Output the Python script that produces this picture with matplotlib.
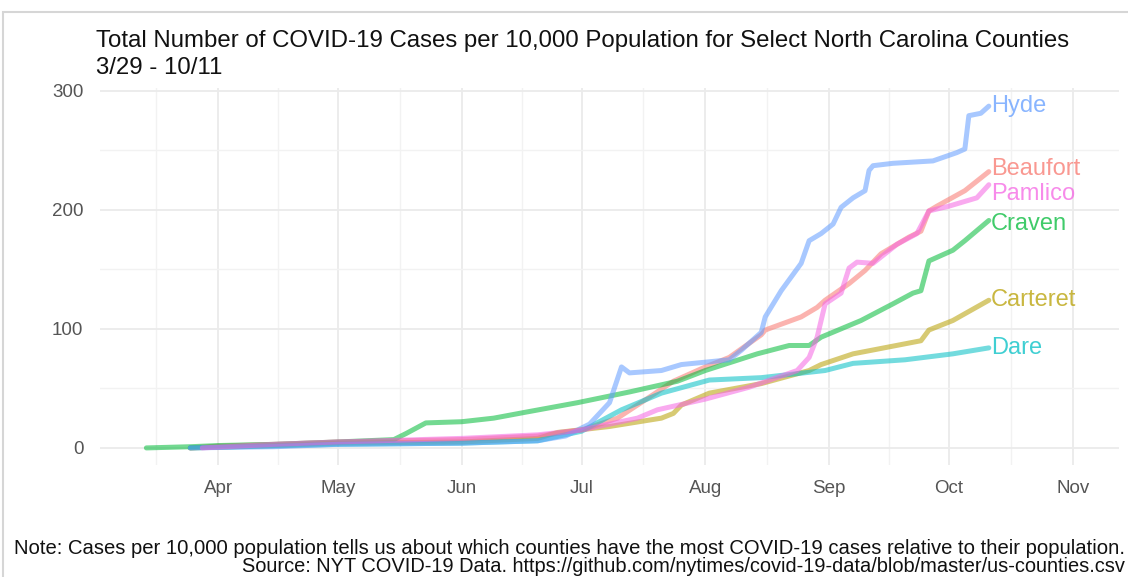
import numpy as np
import pandas as pd
import matplotlib
matplotlib.use("Agg")
import matplotlib.pyplot as plt
import matplotlib.dates as mdates
from matplotlib.patches import Rectangle

# ------------------------------
# Data
# ------------------------------

hyde_dates = ["2020-03-25", "2020-04-15", "2020-05-01", "2020-06-01", "2020-06-20",
              "2020-06-27", "2020-07-03", "2020-07-08", "2020-07-11", "2020-07-13",
              "2020-07-21", "2020-07-26", "2020-08-01", "2020-08-07", "2020-08-10",
              "2020-08-15", "2020-08-16", "2020-08-20", "2020-08-25", "2020-08-27",
              "2020-08-30", "2020-09-02", "2020-09-04", "2020-09-07", "2020-09-10",
              "2020-09-11", "2020-09-12", "2020-09-17", "2020-09-27", "2020-10-03",
              "2020-10-05", "2020-10-06", "2020-10-09", "2020-10-11"]
hyde_vals = [0, 1, 3, 4, 6, 10, 20, 38, 68, 63, 65, 70, 72, 74, 82, 97, 110, 132,
             155, 174, 180, 188, 202, 210, 216, 233, 237, 239, 241, 248, 251, 279,
             281, 287]

beaufort_dates = ["2020-03-25", "2020-04-01", "2020-04-15", "2020-05-01", "2020-06-01",
                  "2020-06-20", "2020-07-01", "2020-07-10", "2020-07-15", "2020-07-24",
                  "2020-08-01", "2020-08-07", "2020-08-15", "2020-08-16", "2020-08-25",
                  "2020-08-29", "2020-08-31", "2020-09-06", "2020-09-10", "2020-09-14",
                  "2020-09-21", "2020-09-24", "2020-09-26", "2020-09-28", "2020-10-05",
                  "2020-10-11"]
beaufort_vals = [0, 1.5, 3, 5, 7, 10, 15, 25, 36, 56, 68, 76, 95, 99, 110, 118, 124,
                 138, 149, 163, 177, 182, 199, 203, 216, 232]

pamlico_dates = ["2020-03-28", "2020-04-15", "2020-05-01", "2020-06-01", "2020-06-20",
                 "2020-07-01", "2020-07-15", "2020-07-20", "2020-08-01", "2020-08-12",
                 "2020-08-24", "2020-08-27", "2020-08-29", "2020-08-31", "2020-09-04",
                 "2020-09-06", "2020-09-08", "2020-09-12", "2020-09-18", "2020-09-23",
                 "2020-09-26", "2020-10-01", "2020-10-08", "2020-10-11"]
pamlico_vals = [0, 3, 5, 8, 11, 15, 25, 32, 41, 51, 65, 76, 93, 121, 130, 151, 156,
                155, 171, 180, 199, 203, 210, 221]

craven_dates = ["2020-03-14", "2020-03-25", "2020-04-01", "2020-04-15", "2020-05-01",
                "2020-05-15", "2020-05-18", "2020-05-23", "2020-06-01", "2020-06-09",
                "2020-06-17", "2020-06-30", "2020-07-13", "2020-07-25", "2020-08-01",
                "2020-08-14", "2020-08-22", "2020-08-27", "2020-08-30", "2020-09-09",
                "2020-09-17", "2020-09-22", "2020-09-24", "2020-09-26", "2020-09-28",
                "2020-10-02", "2020-10-05", "2020-10-11"]
craven_vals = [0, 1, 2, 3, 5, 7, 12, 21, 22, 25, 30, 38, 47, 56, 65, 79, 86, 86, 93,
               107, 121, 130, 132, 157, 160, 166, 174, 191]

carteret_dates = ["2020-03-25", "2020-04-15", "2020-05-01", "2020-06-01", "2020-06-20",
                  "2020-06-25", "2020-07-08", "2020-07-21", "2020-07-24", "2020-07-26",
                  "2020-08-02", "2020-08-15", "2020-08-27", "2020-08-30", "2020-09-07",
                  "2020-09-24", "2020-09-26", "2020-10-02", "2020-10-11"]
carteret_vals = [0, 2, 4, 5, 8, 13, 18, 25, 29, 36, 46, 54, 65, 70, 79, 90, 99, 107,
                 124]

dare_dates = ["2020-03-25", "2020-05-01", "2020-06-01", "2020-06-20", "2020-07-01",
              "2020-07-11", "2020-07-21", "2020-08-02", "2020-08-15", "2020-08-31",
              "2020-09-07", "2020-09-20", "2020-10-02", "2020-10-11"]
dare_vals = [0, 3, 4, 6, 14, 32, 46, 57, 59, 65, 71, 74, 79, 84]

counties = ["Beaufort", "Carteret", "Craven", "Dare", "Hyde", "Pamlico"]
colors = ["#F8766D", "#B79F00", "#00BA38", "#00BFC4", "#619CFF", "#F564E3"]
series = {
    "Beaufort": (beaufort_dates, beaufort_vals),
    "Carteret": (carteret_dates, carteret_vals),
    "Craven": (craven_dates, craven_vals),
    "Dare": (dare_dates, dare_vals),
    "Hyde": (hyde_dates, hyde_vals),
    "Pamlico": (pamlico_dates, pamlico_vals),
}
# small vertical nudges so end labels don't collide
label_nudge = {"Beaufort": 2, "Pamlico": -8, "Craven": -3}

title = ("Total Number of COVID-19 Cases per 10,000 Population for Select North Carolina Counties\n"
         "3/29 - 10/11")
note = "Note: Cases per 10,000 population tells us about which counties have the most COVID-19 cases relative to their population."
source = "Source: NYT COVID-19 Data. https://github.com/nytimes/covid-19-data/blob/master/us-counties.csv"

# ------------------------------
# Plotting
# ------------------------------

plt.rcParams["font.family"] = ["Liberation Sans", "DejaVu Sans"]

fig = plt.figure(figsize=(11.28, 5.77), dpi=100)
ax = fig.add_axes([0.0887, 0.194, 0.9033, 0.653])

for name, col in zip(counties, colors):
    d, v = series[name]
    d = pd.to_datetime(d)
    ax.plot(d, v, color=col, lw=3.6, alpha=0.55, solid_capstyle="round",
            solid_joinstyle="round", zorder=3)
    ax.text(d[-1] + pd.Timedelta(hours=12), v[-1] + label_nudge.get(name, 0), name,
            color=col, alpha=0.75, fontsize=17, ha="left", va="center", zorder=4)

# x limits: Mar 14 - Nov 1 with 5% expansion (ggplot style)
x0 = mdates.date2num(pd.Timestamp("2020-03-14"))
x1 = mdates.date2num(pd.Timestamp("2020-11-01"))
pad = 0.05 * (x1 - x0)
ax.set_xlim(x0 - pad, x1 + pad)
ax.set_ylim(-14.4, 302)

months = pd.date_range("2020-03-01", "2020-12-01", freq="MS")
mnum = mdates.date2num(months)
mids = (mnum[:-1] + mnum[1:]) / 2
ax.xaxis.set_major_locator(mdates.MonthLocator(bymonth=range(4, 12)))
ax.xaxis.set_major_formatter(mdates.DateFormatter("%b"))
ax.xaxis.set_minor_locator(matplotlib.ticker.FixedLocator(mids))
ax.set_yticks([0, 100, 200, 300])
ax.set_yticks([50, 150, 250], minor=True)

ax.grid(True, which="major", color="#ebebeb", lw=1.3, zorder=0)
ax.grid(True, which="minor", color="#f2f2f2", lw=1.0, zorder=0)
ax.set_axisbelow(True)
for s in ax.spines.values():
    s.set_visible(False)
ax.tick_params(which="both", length=0)
ax.tick_params(axis="x", labelsize=13.5, labelcolor="#555555", pad=11)
ax.tick_params(axis="y", labelsize=13.5, labelcolor="#555555", pad=12)

fig.text(96 / 1128, 1 - 30 / 577, title, fontsize=17.3, color="#111111",
         ha="left", va="top", linespacing=1.3)
fig.text(1125 / 1128, 1 - 548 / 577, note, fontsize=14.6, color="#111111",
         ha="right", va="center")
fig.text(1125 / 1128, 1 - 567 / 577, source, fontsize=14.4, color="#111111",
         ha="right", va="center")

# faint screenshot frame
fig.patches.append(Rectangle((3 / 1128, -0.1), 1.2, 1 - 12 / 577 + 0.1,
                             transform=fig.transFigure, fill=False,
                             edgecolor="#d6d6d6", lw=1.5))

fig.savefig("out.png", dpi=100)
